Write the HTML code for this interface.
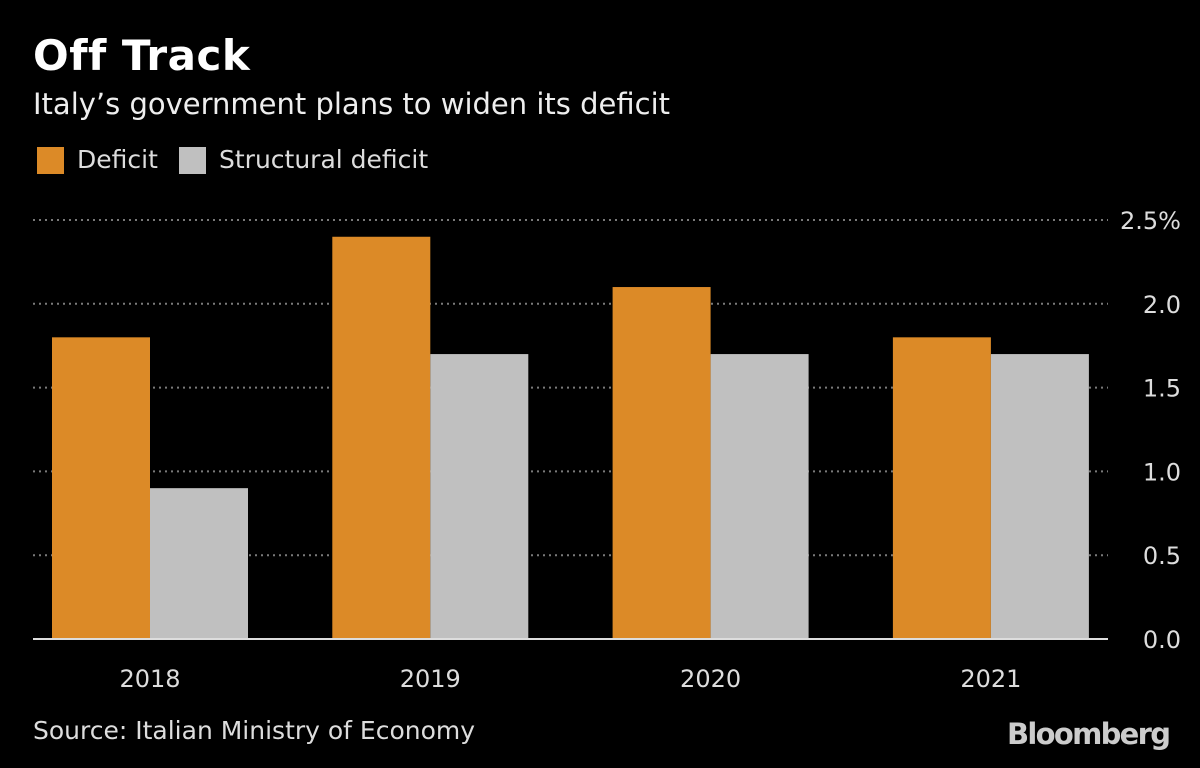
<!DOCTYPE html>
<html><head><meta charset="utf-8"><style>
html,body{margin:0;padding:0;background:#000;}
body{width:1200px;height:768px;position:relative;overflow:hidden;font-family:"DejaVu Sans","Liberation Sans",sans-serif;color:#fff;}
.t{position:absolute;white-space:nowrap;}
</style></head><body>
<div class="t" style="left:33px;top:31px;font-size:42px;font-weight:bold;letter-spacing:0.5px;">Off Track</div>
<div class="t" style="left:33px;top:87px;font-size:29px;color:#eee;">Italy’s government plans to widen its deficit</div>
<div>
<div style="position:absolute;left:37px;top:147px;width:27px;height:27px;background:#dc8a27;"></div>
<div class="t" style="left:77px;top:145px;font-size:25px;color:#ddd;">Deficit</div></div>
<div>
<div style="position:absolute;left:179px;top:147px;width:27px;height:27px;background:#c0c0c0;"></div>
<div class="t" style="left:219px;top:145px;font-size:25px;color:#ddd;">Structural deficit</div></div>
<svg id="chart" width="1200" height="768" style="position:absolute;left:0;top:0;"></svg>
<div class="t" style="left:33px;top:716px;font-size:25px;color:#ddd;">Source: Italian Ministry of Economy</div>
<div class="t" style="left:1007px;top:717px;font-size:29px;font-weight:bold;color:#ccc;letter-spacing:-1.7px;">Bloomberg</div>
<script>
const categories=["2018","2019","2020","2021"];
const deficit=[1.8,2.4,2.1,1.8];
const structural=[0.9,1.7,1.7,1.7];
const ticks=[0,0.5,1,1.5,2,2.5];
const tickLabels=["0.0","0.5","1.0","1.5","2.0","2.5%"];
const svg=document.getElementById('chart');
const NS='http://www.w3.org/2000/svg';
const y0=639,yTop=220,yMax=2.5;
const y=v=>y0-(v/yMax)*(y0-yTop);
const xc=i=>150+i*280.3;
const bw=98;
const FF='DejaVu Sans, Liberation Sans, sans-serif';
function mk(tag,a){const e=document.createElementNS(NS,tag);for(const k in a)e.setAttribute(k,a[k]);svg.appendChild(e);return e;}
ticks.forEach((t,i)=>{
  if(t>0){const g=mk('line',{x1:33,x2:1108,y1:y(t),y2:y(t),stroke:'#7a7a7a','stroke-width':2,'stroke-dasharray':'2,4'});
  
  }
  const l=mk('text',{x:1181,y:y(t)+9,'text-anchor':'end','font-size':24,fill:'#ddd','font-family':FF});
  l.textContent=tickLabels[i];
  
  
});
categories.forEach((c,i)=>{
  const a=mk('rect',{x:xc(i)-bw,y:y(deficit[i]),width:bw,height:y0-y(deficit[i]),fill:'#dc8a27'});
  
  
  const b=mk('rect',{x:xc(i),y:y(structural[i]),width:bw,height:y0-y(structural[i]),fill:'#c0c0c0'});
  
  
  const l=mk('text',{x:xc(i),y:687,'text-anchor':'middle','font-size':24,fill:'#ddd','font-family':FF});
  l.textContent=c;
  
  
});
const ax=mk('line',{x1:33,x2:1108,y1:y0,y2:y0,stroke:'#ddd','stroke-width':2});


</script>
</body></html>
